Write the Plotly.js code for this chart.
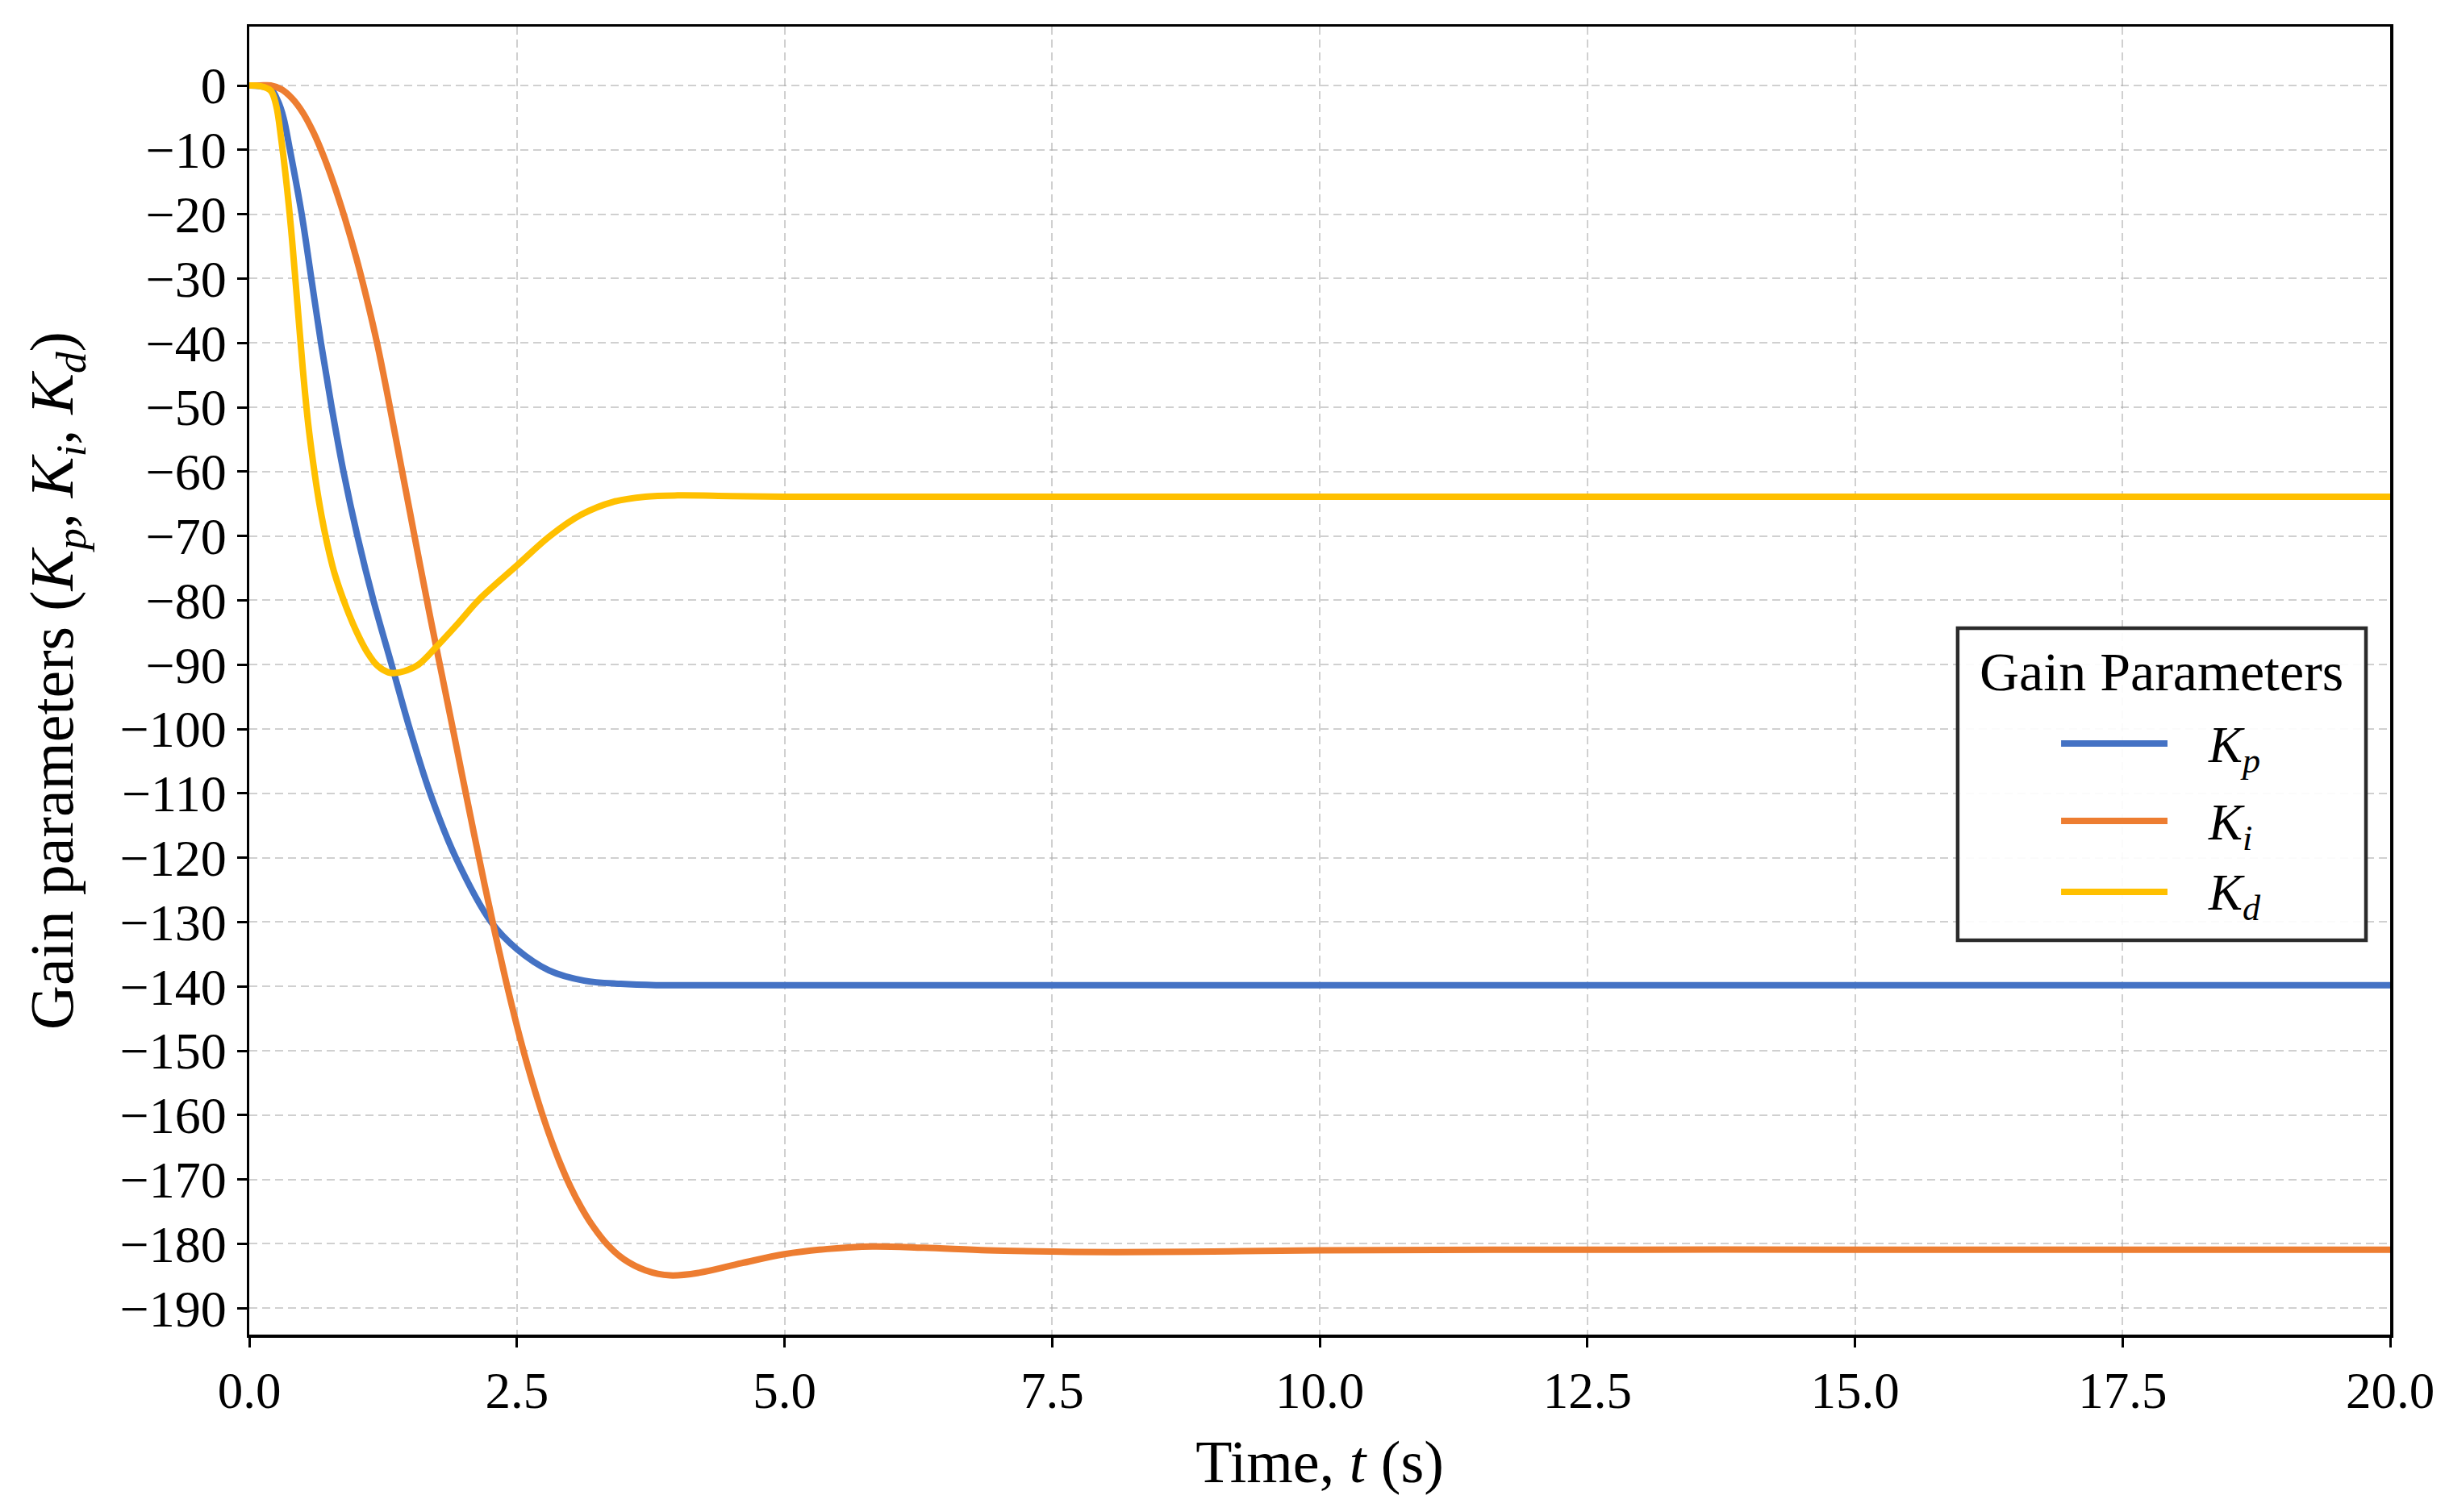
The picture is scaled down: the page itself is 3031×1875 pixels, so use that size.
<!DOCTYPE html>
<html>
<head>
<meta charset="utf-8">
<script src="https://cdn.plot.ly/plotly-3.0.1.min.js"></script>
<style>
  html, body { margin: 0; padding: 0; background: #fff; }
  #chart { width: 3031px; height: 1875px; }
</style>
</head>
<body>
<div id="chart"></div>
<script>
// time samples and gain values
var tKp = [0, 0.1, 0.2, 0.27, 0.32, 0.38, 0.49, 0.58, 0.67, 0.77, 0.88, 1.01, 1.16, 1.33, 1.50, 1.69, 1.93, 2.26, 2.5, 2.8, 3.13, 3.47, 3.8, 4.3, 5, 7.5, 10, 12.5, 15, 17.5, 20];
var kp  = [0, -0.1, -0.5, -2.5, -5, -10, -20, -30, -40, -50, -60, -70, -80, -90, -100, -110, -120, -130, -134.2, -137.5, -139.1, -139.6, -139.8, -139.8, -139.8, -139.8, -139.8, -139.8, -139.8, -139.8, -139.8];

var tKi = [0, 0.1, 0.2, 0.3, 0.4, 0.5, 0.6, 0.7, 0.8, 0.9, 1.0, 1.1, 1.2, 1.3, 1.4, 1.5, 1.6, 1.7, 1.8, 1.9, 2.0, 2.1, 2.2, 2.3, 2.4, 2.5, 2.6, 2.7, 2.8, 2.9, 3.0, 3.1, 3.2, 3.35, 3.5, 3.7, 3.93, 4.2, 4.6, 5.0, 5.4, 5.82, 6.3, 6.9, 7.5, 8.1, 9, 10, 12.5, 15, 17.5, 20];
var ki  = [0, 0, 0, -0.6, -2.0, -4.2, -7.3, -11.2, -15.8, -21.0, -26.8, -33.3, -40.5, -48.8, -57.5, -66.2, -74.9, -83.4, -91.6, -99.8, -108.1, -116.3, -124.3, -132.0, -139.3, -146.1, -152.3, -157.9, -162.9, -167.3, -171.1, -174.3, -177.0, -180.2, -182.4, -184.1, -184.9, -184.5, -183.0, -181.6, -180.8, -180.4, -180.6, -181.0, -181.2, -181.3, -181.2, -181.0, -180.9, -180.9, -180.9, -180.9];

var tKd = [0, 0.1, 0.2, 0.25, 0.3, 0.35, 0.4, 0.45, 0.5, 0.55, 0.6, 0.65, 0.7, 0.75, 0.8, 0.9, 1.0, 1.1, 1.2, 1.3, 1.36, 1.45, 1.58, 1.75, 1.95, 2.14, 2.5, 2.81, 3.1, 3.4, 3.7, 4.0, 4.5, 5, 6, 7.5, 10, 12.5, 15, 17.5, 20];
var kd  = [0, -0.1, -0.8, -3, -8.5, -15.5, -24, -34, -44, -52.5, -59, -64.5, -69, -72.8, -76, -80.8, -84.8, -88, -90.2, -91.2, -91.3, -91.0, -90, -87.2, -83.6, -80, -74.6, -70, -66.7, -64.7, -63.9, -63.7, -63.8, -63.9, -63.9, -63.9, -63.9, -63.9, -63.9, -63.9, -63.9];

var names  = ['<i>K<sub>p</sub></i>', '<i>K<sub>i</sub></i>', '<i>K<sub>d</sub></i>'];
var colors = ['#4472C4', '#ED7D31', '#FFC000'];
var legendTitle = 'Gain Parameters';

var xs = [tKp, tKi, tKd];
var ys = [kp, ki, kd];

var font = 'Liberation Serif, Times New Roman, serif';

var data = [];
for (var i = 0; i < 3; i++) {
  data.push({
    x: xs[i], y: ys[i], name: names[i],
    type: 'scatter', mode: 'lines',
    line: { color: colors[i], width: 8, shape: 'spline', smoothing: 1 },
    showlegend: false
  });
}

// hand-made legend box (matplotlib style, long line samples)
var lg = { x0: 0.798, x1: 0.9887, y0: 0.3015, y1: 0.540,
           titleY: 0.5068, lineX0: 0.8463, lineX1: 0.896, textX: 0.9141,
           rows: [0.4519, 0.3927, 0.3385] };

var shapes = [{
  type: 'rect', xref: 'paper', yref: 'paper',
  x0: lg.x0, x1: lg.x1, y0: lg.y0, y1: lg.y1,
  line: { color: '#2b2b2b', width: 4.5 }, fillcolor: 'rgba(255,255,255,0.9)', layer: 'above'
}];
var annotations = [{
  xref: 'paper', yref: 'paper', x: (lg.x0 + lg.x1) / 2, y: lg.titleY,
  text: legendTitle, showarrow: false, xanchor: 'center', yanchor: 'middle',
  font: { family: font, size: 68, color: '#000' }
}];
for (var j = 0; j < 3; j++) {
  shapes.push({
    type: 'line', xref: 'paper', yref: 'paper',
    x0: lg.lineX0, x1: lg.lineX1, y0: lg.rows[j], y1: lg.rows[j],
    line: { color: colors[j], width: 8 }, layer: 'above'
  });
  annotations.push({
    xref: 'paper', yref: 'paper', x: lg.textX, y: lg.rows[j], yshift: -6,
    text: names[j], showarrow: false, xanchor: 'left', yanchor: 'middle',
    font: { family: font, size: 63, color: '#000' }
  });
}

var layout = {
  width: 3031, height: 1875,
  margin: { l: 309, r: 68, t: 33, b: 220, pad: 0 },
  paper_bgcolor: '#fff', plot_bgcolor: '#fff',
  font: { family: font, color: '#000' },
  xaxis: {
    range: [0, 20], dtick: 2.5, tick0: 0, tickformat: '.1f',
    ticks: 'outside', ticklen: 12, tickwidth: 3, tickcolor: '#000',
    showline: true, linecolor: '#000', linewidth: 3.5, mirror: true,
    showgrid: true, gridcolor: 'rgba(170,170,170,0.55)', gridwidth: 2, griddash: '10px,6px',
    zeroline: false,
    tickfont: { family: font, size: 63, color: '#000' },
    title: { text: 'Time, <i>t</i> (s)', font: { family: font, size: 74, color: '#000' }, standoff: 28 }
  },
  yaxis: {
    range: [-194.1, 9.15], dtick: 10, tick0: 0,
    ticks: 'outside', ticklen: 12, tickwidth: 3, tickcolor: '#000',
    showline: true, linecolor: '#000', linewidth: 3.5, mirror: true,
    showgrid: true, gridcolor: 'rgba(170,170,170,0.55)', gridwidth: 2, griddash: '10px,6px',
    zeroline: false,
    tickfont: { family: font, size: 64, color: '#000' },
    title: { text: 'Gain parameters (<i>K<sub>p</sub></i>, <i>K<sub>i</sub></i>, <i>K<sub>d</sub></i>)',
             font: { family: font, size: 76, color: '#000' }, standoff: 34 }
  },
  shapes: shapes,
  annotations: annotations,
  showlegend: false
};

Plotly.newPlot('chart', data, layout, { staticPlot: true });
</script>
</body>
</html>
